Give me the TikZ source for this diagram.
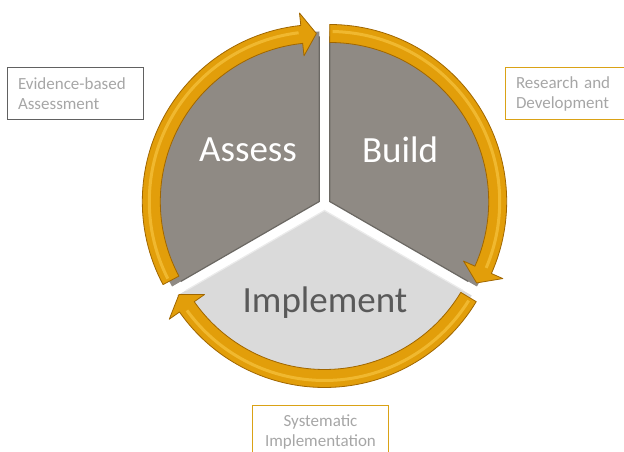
\documentclass[tikz,border=0pt]{standalone}
\usepackage{fontspec}
\setmainfont{Carlito}

\definecolor{ringgold}{RGB}{226,158,10}
\definecolor{ringdark}{RGB}{160,102,0}
\definecolor{ringlight}{RGB}{246,196,64}
\definecolor{slicegray}{RGB}{143,138,132}
\definecolor{slicelight}{RGB}{218,218,218}
\definecolor{labelgray}{RGB}{166,166,166}
\definecolor{boxgold}{RGB}{218,162,22}

% ring arrow: centre, start angle, base of head, tip of head
\newcommand{\ringarrow}[4]{
    \filldraw[ringgold, draw=ringdark, line width=0.8pt, line join=round]
        ([shift={(#1)}]#2:177) arc[start angle=#2, end angle=#3, radius=177]
        -- ([shift={(#1)}]#3:189.5) -- ([shift={(#1)}]#4:168)
        -- ([shift={(#1)}]#3:146.5) -- ([shift={(#1)}]#3:159)
        arc[start angle=#3, end angle=#2, radius=159] -- cycle;
    \draw[ringlight, line width=3pt, opacity=0.7]
        ([shift={(#1)}]#2-1:170) arc[start angle=#2-1, end angle=#3+1, radius=170];
}

\tikzset{
    slicetext/.style={font=\fontsize{37}{44}\selectfont},
    notebox/.style={draw, line width=1pt, text=labelgray, inner xsep=11pt,
        minimum height=52pt, text width=114pt, font=\fontsize{17}{20}\selectfont}
}

\begin{document}
\begin{tikzpicture}[x=1pt,y=1pt]
    \useasboundingbox (0,0) rectangle (624,452);

    \coordinate (assessc) at (319.3,250.5);
    \coordinate (buildc) at (329.7,250.5);
    \coordinate (implc) at (324.5,241.5);

    % slices
    \fill[slicegray] (assessc) -- ++(90:170) arc[start angle=90, end angle=210, radius=170] -- cycle;
    \fill[slicegray] (buildc) -- ++(90:170) arc[start angle=90, end angle=-30, radius=170] -- cycle;
    \fill[slicelight] (implc) -- ++(-30:170) arc[start angle=-30, end angle=-150, radius=170] -- cycle;

    \draw[slicegray!75!black, line width=1.2pt] ([shift={(assessc)}]90:165) -- (assessc) -- ([shift={(assessc)}]210:160);
    \draw[slicegray!75!black, line width=1.2pt] ([shift={(buildc)}]90:165) -- (buildc) -- ([shift={(buildc)}]-30:160);
    \draw[white!92!black, line width=1.2pt] ([shift={(implc)}]210:160) -- (implc) -- ([shift={(implc)}]-30:160);

    % ring arrows
    \ringarrow{assessc}{208}{96}{91}
    \ringarrow{buildc}{90}{-24}{-29}
    \ringarrow{implc}{-31}{-145}{-150}

    \node[slicetext, text=white] (assess) at (248,302) {Assess};
    \node[slicetext, text=white] (build) at (400,302) {Build};
    \node[slicetext, text=black!65] (implement) at (325,149) {Implement};

    % notes
    \node[notebox, draw=black!62, align=left] (evidence) at (75,358) {Evidence-based\\Assessment};
    \node[notebox, draw=boxgold, align=left] (research) at (573,358.5) {Research and\\Development};
    \node[notebox, draw=boxgold, align=center] (systematic) at (320.5,20) {Systematic\\Implementation};
\end{tikzpicture}
\end{document}
